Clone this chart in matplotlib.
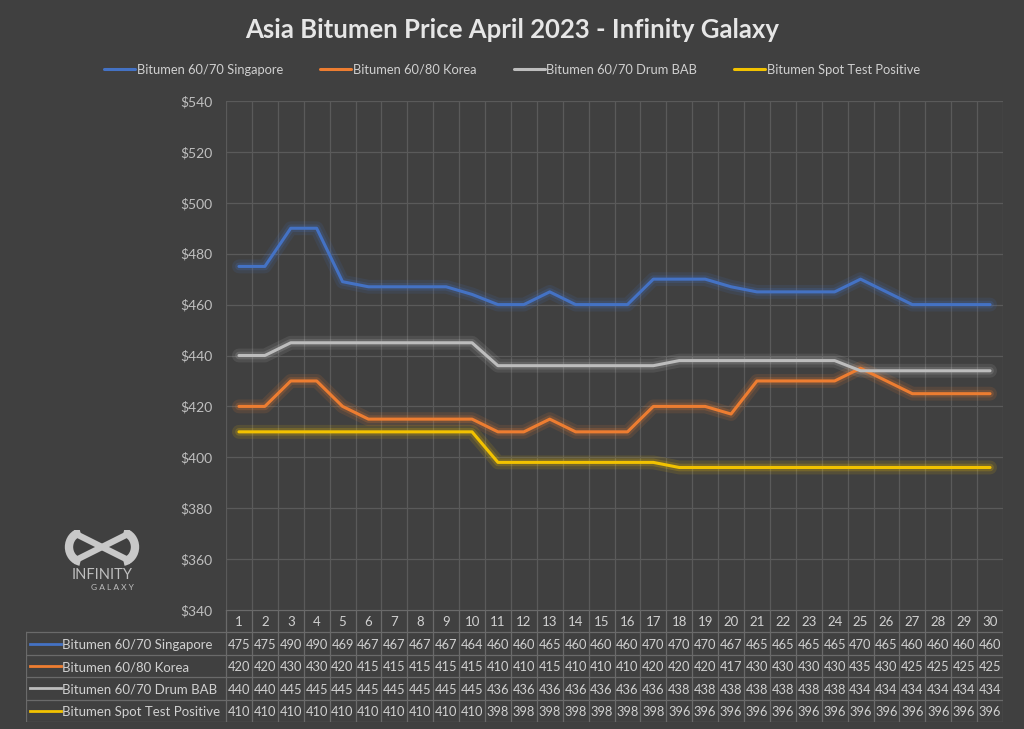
import numpy as np
import matplotlib
matplotlib.use("Agg")
import matplotlib.pyplot as plt
from matplotlib.patches import Arc

plt.rcParams['font.family'] = ['Lato', 'DejaVu Sans']

days = list(range(1, 31))
singapore = [475, 475, 490, 490, 469, 467, 467, 467, 467, 464, 460, 460, 465, 460, 460,
             460, 470, 470, 470, 467, 465, 465, 465, 465, 470, 465, 460, 460, 460, 460]
korea = [420, 420, 430, 430, 420, 415, 415, 415, 415, 415, 410, 410, 415, 410, 410,
         410, 420, 420, 420, 417, 430, 430, 430, 430, 435, 430, 425, 425, 425, 425]
drum_bab = [440, 440, 445, 445, 445, 445, 445, 445, 445, 445, 436, 436, 436, 436, 436,
            436, 436, 438, 438, 438, 438, 438, 438, 438, 434, 434, 434, 434, 434, 434]
spot_test = [410, 410, 410, 410, 410, 410, 410, 410, 410, 410, 398, 398, 398, 398, 398,
             398, 398, 396, 396, 396, 396, 396, 396, 396, 396, 396, 396, 396, 396, 396]

series_names = ["Bitumen 60/70 Singapore", "Bitumen 60/80 Korea",
                "Bitumen 60/70 Drum BAB", "Bitumen Spot Test Positive"]
series_values = [singapore, korea, drum_bab, spot_test]
series_colors = ["#4472C4", "#ED7D31", "#BDBDBD", "#F2C200"]

y_ticks = list(range(340, 541, 20))

BG = "#404040"
GRID = "#5a5a5a"
TXT = "#d0d0d0"
W, H = 1024, 729

fig = plt.figure(figsize=(W / 100, H / 100), dpi=100, facecolor=BG)

# main plot area (pixel bounds from reference)
px_l, px_r, px_t, px_b = 226, 1003, 101, 610
ax = fig.add_axes([px_l / W, 1 - px_b / H, (px_r - px_l) / W, (px_b - px_t) / H])
ax.set_facecolor(BG)

x = np.array(days)
for name, vals, col in zip(series_names, series_values, series_colors):
    # soft glow under each line
    ax.plot(x, vals, color=col, lw=10, alpha=0.12, solid_capstyle='round', zorder=2)
    ax.plot(x, vals, color=col, lw=5.5, alpha=0.2, solid_capstyle='round', zorder=2)
    ax.plot(x, vals, color=col, lw=2.2, label=name, solid_capstyle='round', zorder=3)

ax.set_xlim(0.5, 30.5)
ax.set_ylim(340, 540)
ax.set_yticks(y_ticks)
ax.set_yticklabels([f"${v}" for v in y_ticks], color="#bfbfbf", fontsize=10)
ax.set_xticks(np.arange(0.5, 31, 1))
ax.set_xticklabels([])
ax.tick_params(length=0, pad=10)
ax.grid(True, color=GRID, lw=0.9)
for s in ax.spines.values():
    s.set_visible(False)

fig.text(0.5, 1 - 30 / H, "Asia Bitumen Price April 2023 - Infinity Galaxy",
         ha='center', va='center', fontsize=18.5, fontweight='bold', color="#e6e6e6")

handles, labels = ax.get_legend_handles_labels()
leg = fig.legend(handles, labels, loc='center', bbox_to_anchor=(0.5, 1 - 70 / H), ncol=4,
                 frameon=False, fontsize=9.3, handlelength=2.4, handletextpad=0.1,
                 columnspacing=2.9)
for t in leg.get_texts():
    t.set_color(TXT)

# data table under the chart
tb_l, tb_t, tb_b = 26, 610, 722
tax = fig.add_axes([tb_l / W, 1 - tb_b / H, (px_r - tb_l) / W, (tb_b - tb_t) / H])
tax.set_facecolor(BG)
label_cols = (px_l - tb_l) / ((px_r - px_l) / 30)
x0 = 0.5 - label_cols
tax.set_xlim(x0, 30.5)
tax.set_ylim(5, 0)
tax.axis('off')
bc = "#6a6a6a"
# header borders
tax.plot([0.5, 30.5], [0, 0], color=bc, lw=0.9)
for xb in np.arange(0.5, 31, 1):
    tax.plot([xb, xb], [0, 5], color=bc, lw=0.9)
for yb in range(1, 6):
    tax.plot([x0, 30.5], [yb, yb], color=bc, lw=0.9)
tax.plot([x0, x0], [1, 5], color=bc, lw=0.9)
for d in days:
    tax.text(d, 0.55, str(d), ha='center', va='center', fontsize=9.5, color=TXT)
for r, (name, vals, col) in enumerate(zip(series_names, series_values, series_colors)):
    yc = r + 1.55
    tax.plot([x0 + 0.15, x0 + 1.35], [yc - 0.05, yc - 0.05], color=col, lw=2)
    tax.text(x0 + 1.4, yc, name, ha='left', va='center', fontsize=9.5, color=TXT)
    for d, v in zip(days, vals):
        tax.text(d, yc, str(v), ha='center', va='center', fontsize=9.3, color=TXT)

# logo
lax = fig.add_axes([62 / W, 1 - 600 / H, 80 / W, 70 / H])
lax.set_xlim(0, 80)
lax.set_ylim(70, 0)
lax.axis('off')
lax.add_patch(Arc((21, 17), 28, 30, theta1=100, theta2=260, lw=6, color="#c8c8c8"))
lax.add_patch(Arc((59, 17), 28, 30, theta1=-80, theta2=80, lw=6, color="#c8c8c8"))
lax.plot([14, 66], [4, 30], color="#c8c8c8", lw=4.5)
lax.plot([14, 66], [30, 4], color="#c8c8c8", lw=4.5)
lax.text(40, 45, "INFINITY", ha='center', va='center', fontsize=10.5, color="#bfbfbf")
lax.text(50, 57, "G A L A X Y", ha='center', va='center', fontsize=6, color="#bfbfbf")

fig.savefig("out.png", dpi=100, facecolor=BG)
